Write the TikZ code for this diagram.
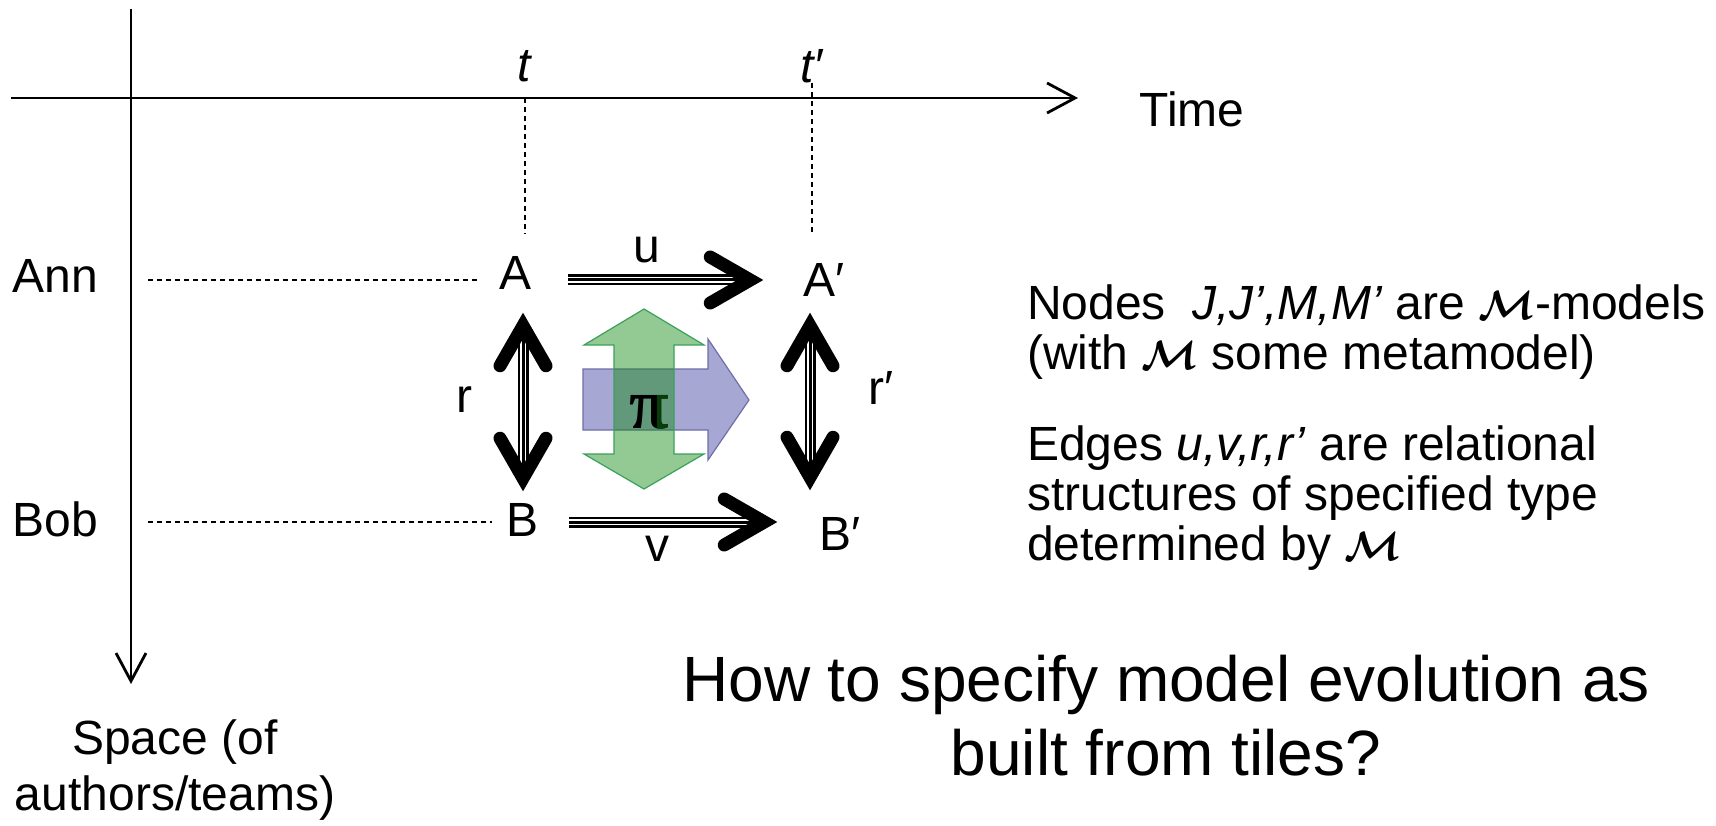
\documentclass[tikz,border=0pt]{standalone}
\usepackage{fontspec}
\setmainfont{Liberation Sans}
\newfontfamily\pifont{Liberation Serif}
\usepackage{bm}
\usetikzlibrary{arrows.meta}
\usetikzlibrary{positioning}

\definecolor{tilegreen}{RGB}{15,137,15}
\definecolor{tileedge}{RGB}{60,160,90}
\definecolor{tileblue}{RGB}{167,167,211}
\definecolor{bluedge}{RGB}{110,110,170}
\definecolor{pigreen}{RGB}{7,62,7}

\tikzset{
  barb/.tip={Straight Barb[length=40pt, width=46pt, line width=13pt, line cap=round, line join=miter]},
  axtip/.tip={Straight Barb[length=28pt, width=30pt, line width=2.8pt]},
  lab/.style={font=\fontsize{48}{50}\selectfont, inner sep=0pt},
  pisym/.style={font=\pifont\bfseries\fontsize{72}{72}\selectfont, inner sep=0pt},
  axis/.style={line width=2.8pt, -{axtip}},
  guide/.style={line width=1.1pt, dash pattern=on 5pt off 4pt},
  tri/.style={draw=black, line width=11pt, shorten >=22pt,
    postaction={draw=white, line width=6pt},
    postaction={draw=black, line width=3pt, shorten >=0pt, -{barb}}},
  tritwo/.style={draw=black, line width=11pt, shorten >=22pt, shorten <=22pt,
    postaction={draw=white, line width=6pt},
    postaction={draw=black, line width=3pt, shorten >=0pt, shorten <=0pt, {barb}-{barb}}}
}
\newcommand{\metaM}{\smash{\scalebox{4.1}{\normalsize$\bm{\mathcal{M}}$}}}

\begin{document}
\begin{tikzpicture}[x=1pt, y=-1pt]
  \useasboundingbox (0,0) rectangle (1716,826);

  % axes
  \coordinate (O) at (131,98);
  \coordinate (spacetop) at (131,9);
  \coordinate (spaceend) at (131,684);
  \coordinate (timeleft) at (11,98);
  \coordinate (timeend) at (1078,98);
  \draw [axis] (spacetop) -- (spaceend);
  \draw [axis] (timeleft) -- (timeend);
  \node [lab] (time) at (1192,109) {Time};
  \node [font=\fontsize{48}{56}\selectfont, align=center, inner sep=0pt] (space) at (175,770) {Space (of\\authors/teams)};

  % instants and authors
  \node [lab] (t) at (525,66) {\textit{t}};
  \node [lab] (tp) at (812,66) {\textit{t′}};
  \node [lab] (Ann) at (55,276) {Ann};
  \node [lab] (Bob) at (55,519) {Bob};

  % models
  \node [lab] (A) at (516,273) {A};
  \node [lab] (Ap) at (824,280) {A′};
  \node [lab] (B) at (523,520) {B};
  \node [lab] (Bp) at (840,534) {B′};

  \draw [guide] (t |- O) -- ([yshift=22pt]t |- A.north);
  \draw [guide] (tp.south) -- ([yshift=28pt]tp |- Ap.north);
  \draw [guide] ([xshift=50pt,yshift=-4pt]Ann.east) -- ([xshift=-23pt,yshift=-7pt]A.west);
  \draw [guide] ([xshift=50pt,yshift=-3pt]Bob.east) -- ([xshift=-15pt,yshift=-2pt]B.west);

  % edges
  \draw [tri] ([xshift=36pt,yshift=-7pt]A.east) -- ([xshift=-40pt]Ap.west);
  \draw [tri] ([xshift=30pt,yshift=-2pt]B.east) -- ([xshift=-42pt,yshift=12pt]Bp.west);
  \draw [tritwo] ([xshift=7pt,yshift=-23pt]A.south) -- ([yshift=12pt]B.north);
  \draw [tritwo] ([xshift=-14pt,yshift=-16pt]Ap.south) -- ([xshift=-30pt,yshift=27pt]Bp.north);

  \node [lab] (lu) at (647,250) {u};
  \node [lab] (lv) at (657,549) {v};
  \node [lab] (lr) at (464,400) {r};
  \node [lab] (lrp) at (881,388) {r′};

  % tile
  \filldraw [fill=tileblue, draw=bluedge, line width=1.2pt]
    (583,369) -- (708,369) -- (708,339) -- (749,400) -- (708,460) -- (708,430) -- (583,430) -- cycle;
  \filldraw [fill=tilegreen, fill opacity=0.45, draw=tileedge, line width=1.2pt]
    (644,309) -- (704,345) -- (674,345) -- (674,454) -- (704,454) -- (644,489)
    -- (584,454) -- (614,454) -- (614,345) -- (584,345) -- cycle;
  \node [pisym] (pi) at (649,412) {π};
  \begin{scope}
    \clip (657,370) rectangle (700,450);
    \node [pisym, text=pigreen] at (649,412) {π};
  \end{scope}

  % text
  \node [lab, anchor=west, align=left] (nodes) at (1027,332)
    {Nodes\ \ \textit{J,J’,M,M’} are \metaM-models\\(with \metaM\ some metamodel)};
  \node [lab, anchor=west, align=left] (edges) at (1027,498)
    {Edges \textit{u,v,r,r’} are relational\\structures of specified type\\determined by \metaM};
  \node [font=\fontsize{64}{74}\selectfont, align=center, inner sep=0pt] (title) at (1166,716)
    {How to specify model evolution as\\built from tiles?};

\end{tikzpicture}
\end{document}
